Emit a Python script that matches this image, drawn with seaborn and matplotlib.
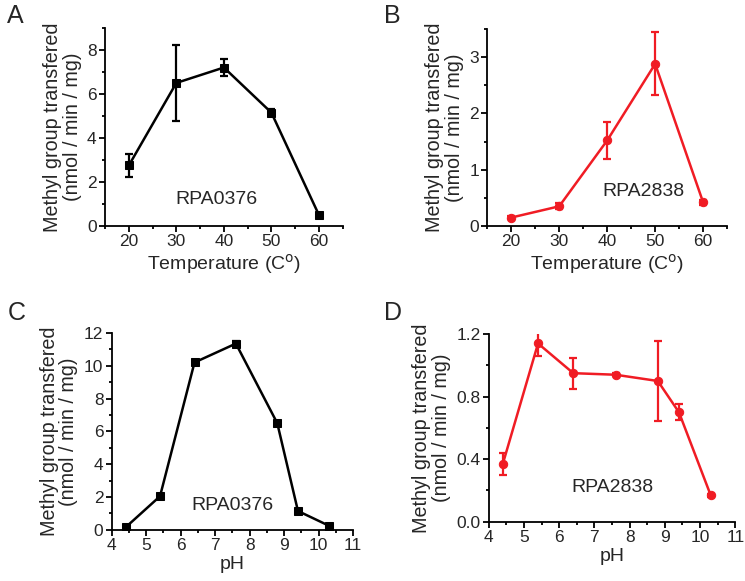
import matplotlib

matplotlib.use("Agg")

import matplotlib.pyplot as plt
import numpy as np
import pandas as pd
import seaborn as sns
from matplotlib.ticker import MultipleLocator

# temperature series
temp = [20, 30, 40, 50, 60]
temp_0376 = [2.75, 6.5, 7.2, 5.15, 0.5]
temp_0376_err = [0.52, 1.72, 0.38, 0.15, 0.05]
temp_2838 = [0.15, 0.35, 1.52, 2.88, 0.42]
temp_2838_err = [0.02, 0.05, 0.33, 0.56, 0.05]

# pH series
ph = [4.4, 5.4, 6.4, 7.6, 8.8, 9.4, 10.3]
ph_0376 = [0.15, 2.05, 10.2, 11.35, 6.5, 1.15, 0.25]
ph_0376_err = [0.05, 0.1, 0.15, 0.15, 0.1, 0.08, 0.05]
ph_2838 = [0.37, 1.14, 0.95, 0.94, 0.9, 0.70, 0.17]
ph_2838_err = [0.07, 0.08, 0.10, 0.01, 0.255, 0.05, 0.01]

RED = "#f01c24"
YLABEL = "Methyl group transfered\n(nmol / min / mg)"

sns.set_style("ticks")
plt.rcParams["font.family"] = ["Liberation Sans", "DejaVu Sans"]

fig = plt.figure(figsize=(7.45, 5.81), dpi=100)

panels = [
    # letter, rect, x, y, err, color, marker, xlabel, xlim, ylim, xmaj, ymaj, label, label pos
    ("A", [0.141, 0.611, 0.319, 0.341], temp, temp_0376, temp_0376_err, "black", "s",
     "Temperature (C$^{\\mathrm{o}}$)", (15, 65), (0, 9), 10, 2, "RPA0376", (38.5, 1.2)),
    ("B", [0.654, 0.611, 0.322, 0.339], temp, temp_2838, temp_2838_err, RED, "o",
     "Temperature (C$^{\\mathrm{o}}$)", (15, 65), (0, 3.5), 10, 1, "RPA2838", (47.6, 0.62)),
    ("C", [0.150, 0.088, 0.324, 0.339], ph, ph_0376, ph_0376_err, "black", "s",
     "pH", (4, 11), (0, 12), 1, 2, "RPA0376", (7.5, 1.5)),
    ("D", [0.656, 0.102, 0.331, 0.323], ph, ph_2838, ph_2838_err, RED, "o",
     "pH", (4, 11), (0, 1.2), 1, 0.4, "RPA2838", (7.5, 0.22)),
]

letter_pos = {"A": (0.010, 0.972), "B": (0.515, 0.972), "C": (0.010, 0.462), "D": (0.515, 0.462)}

for (letter, rect, xs, ys, errs, color, marker, xlabel, xlim, ylim,
     xmaj, ymaj, label, lpos) in panels:
    ax = fig.add_axes(rect)
    df = pd.DataFrame({"x": xs, "y": ys, "err": errs})
    ax.errorbar(df["x"], df["y"], yerr=df["err"], fmt="none", ecolor=color,
                elinewidth=1.6, capsize=3, capthick=1.6, zorder=2)
    sns.lineplot(data=df, x="x", y="y", ax=ax, color=color, marker=marker,
                 markersize=6, markeredgecolor=color, linewidth=1.8, zorder=3)
    ax.set_xlim(*xlim)
    ax.set_ylim(*ylim)
    ax.xaxis.set_major_locator(MultipleLocator(xmaj))
    ax.xaxis.set_minor_locator(MultipleLocator(xmaj / 2))
    ax.yaxis.set_major_locator(MultipleLocator(ymaj))
    ax.yaxis.set_minor_locator(MultipleLocator(ymaj / 2))
    if letter == "D":
        ax.yaxis.set_major_formatter(matplotlib.ticker.FormatStrFormatter("%.1f"))
    sns.despine(ax=ax)
    for side in ("left", "bottom"):
        ax.spines[side].set_linewidth(1.3)
        ax.spines[side].set_color("black")
    ax.tick_params(which="major", length=4, width=1.3, labelsize=12.5, pad=2, color="black")
    ax.tick_params(which="minor", length=2, width=1.3, color="black")
    ax.set_xlabel(xlabel, fontsize=14, labelpad=2)
    ax.set_ylabel(YLABEL, fontsize=14.2, labelpad=4, linespacing=1.05)
    ax.text(lpos[0], lpos[1], label, fontsize=14, ha="center", va="center")
    lx, ly = letter_pos[letter]
    fig.text(lx, ly, letter, fontsize=18, ha="left", va="center")

fig.savefig("out.png", dpi=100)
